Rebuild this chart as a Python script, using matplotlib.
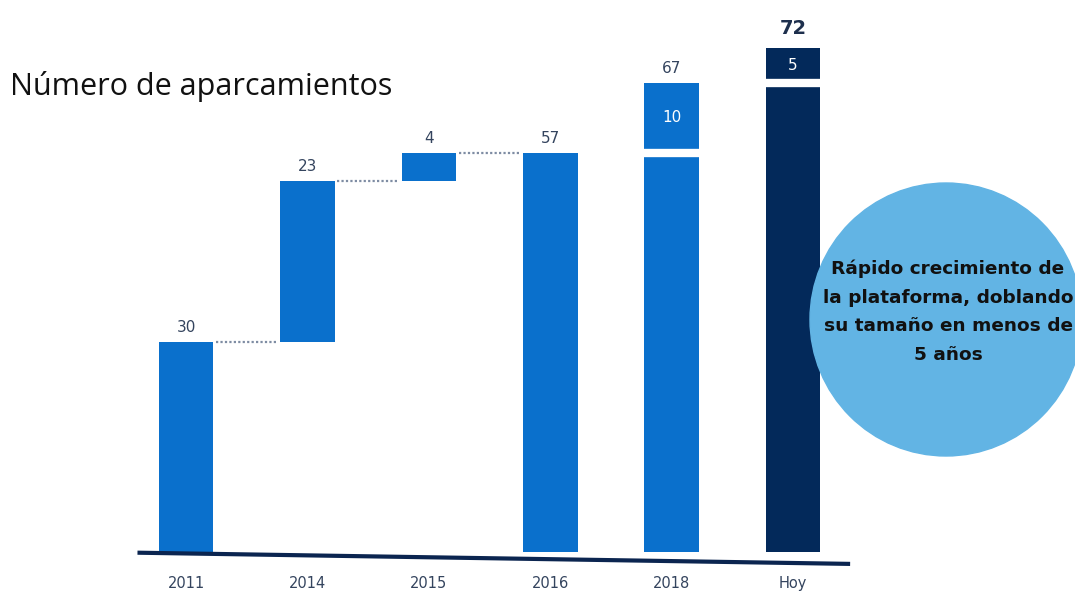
"""
Waterfall chart: Número de aparcamientos (2011 -> Hoy).
"""

import matplotlib
matplotlib.use("Agg")
import matplotlib.pyplot as plt
from matplotlib.patches import Ellipse

# ---------------------------------------------------------------------------
# Data
# ---------------------------------------------------------------------------
categories = ["2011", "2014", "2015", "2016", "2018", "Hoy"]
bottoms = [0, 30, 53, 0, 0, 0]          # where each main segment starts
heights = [30, 23, 4, 57, 57, 67]       # main segment size
extra = [0, 0, 0, 0, 10, 5]             # stacked growth on top
top_labels = ["30", "23", "4", "57", "67", "72"]
connect_to_next = [True, True, True, False, False, False]

BLUE = "#0a70cc"
NAVY = "#03295a"
LABEL = "#34445e"
bar_colors = [BLUE, BLUE, BLUE, BLUE, BLUE, NAVY]

W, H = 1075, 592
fig = plt.figure(figsize=(W / 100, H / 100), dpi=100)
ax = fig.add_axes([0.1053, 0.0321, 0.7002, 0.9578])
ax.set_xlim(-0.6, 5.6)
ax.set_ylim(-3, 78)

x = list(range(len(categories)))
bw = 0.45

ax.bar(x, heights, bottom=bottoms, width=bw, color=bar_colors, zorder=3)
tops = [b + h for b, h in zip(bottoms, heights)]
ax.bar(x, extra, bottom=tops, width=bw, color=bar_colors, zorder=3)

# white gap between stacked segments
for xi, t, e in zip(x, tops, extra):
    if e:
        ax.hlines(t, xi - bw / 2, xi + bw / 2, color="white", lw=6, zorder=4)
        ax.text(xi, t + e / 2, str(e), ha="center", va="center",
                color="white", fontsize=11, zorder=5)

# dotted connectors between waterfall steps
for i, flag in enumerate(connect_to_next):
    if flag:
        lvl = tops[i]
        ax.plot([i + bw / 2 + 0.02, i + 1 - bw / 2 - 0.02], [lvl, lvl],
                ls=(0, (1, 1)), color="#7e8ca3", lw=1.6, zorder=2)

# value labels above bars
for i, lab in enumerate(top_labels):
    y = tops[i] + extra[i]
    last = i == len(top_labels) - 1
    ax.annotate(lab, (x[i], y), xytext=(0, 5 if not last else 7),
                textcoords="offset points", ha="center", va="bottom",
                color="#1d2f4d" if last else LABEL,
                fontsize=14 if last else 11,
                fontweight="bold" if last else "normal")

# baseline (slightly tilted, as in the source slide)
ax.plot([-0.4, 5.47], [-0.1, -1.7], color="#0b2550", lw=3, zorder=4,
        solid_capstyle="butt")

ax.set_xticks(x)
ax.set_xticklabels(categories, fontsize=10.5, color=LABEL)
ax.tick_params(axis="x", length=0, pad=2)
ax.set_yticks([])
for s in ax.spines.values():
    s.set_visible(False)

fig.text(10 / W, 1 - 87 / H, "Número de aparcamientos", fontsize=22,
         family="Open Sans", va="center", ha="left", color="#111111")

# callout bubble
fig.add_artist(Ellipse((946 / W, 1 - 319.5 / H), 272 / W, 273 / H,
                       transform=fig.transFigure, color="#62b4e4", zorder=1))
fig.text(948 / W, 1 - 312 / H,
         "Rápido crecimiento de\nla plataforma, doblando\n"
         "su tamaño en menos de\n5 años",
         ha="center", va="center", fontsize=13.3, fontweight="bold",
         family="DejaVu Sans", color="#111111", linespacing=1.75)

fig.savefig("out.png", dpi=100)
